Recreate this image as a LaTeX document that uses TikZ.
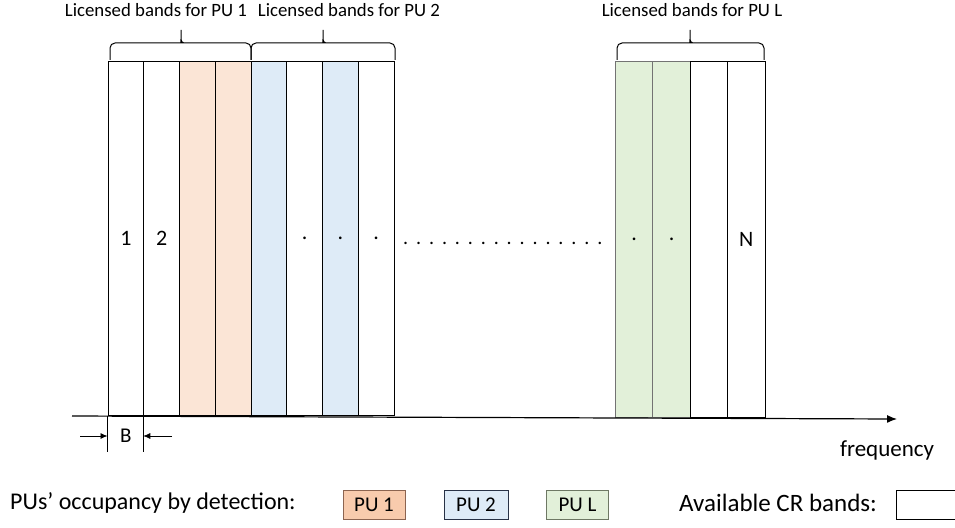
\documentclass[tikz,border=0pt]{standalone}
\usepackage{fontspec}
\setmainfont{Carlito}
\usetikzlibrary{arrows.meta,decorations.pathreplacing,positioning}
\definecolor{puone}{RGB}{251,229,214}
\definecolor{putwo}{RGB}{222,235,247}
\definecolor{pul}{RGB}{226,240,217}
\definecolor{puonekey}{RGB}{248,203,173}
\definecolor{puonedraw}{RGB}{140,100,80}
\definecolor{putwodraw}{RGB}{40,50,70}
\definecolor{puldraw}{RGB}{110,120,100}
\newcommand{\gapdot}{.\hspace{7.9pt}}

\begin{document}
\begin{tikzpicture}[x=1pt,y=-1pt,
  band/.style={draw,line width=1pt,anchor=south,inner sep=0pt,minimum width=35.75pt,minimum height=354pt,font=\fontsize{22}{22}\selectfont},
  wideband/.style={band,minimum width=37.4pt,minimum height=356pt},
  bracket/.style={line width=1pt},
  lab/.style={font=\fontsize{18.8}{18.8}\selectfont,inner sep=0pt},
  key/.style={draw,line width=1pt,minimum width=62pt,minimum height=29pt,inner sep=0pt,font=\fontsize{21}{21}\selectfont},
  big/.style={font=\fontsize{24}{24}\selectfont,inner sep=0pt}]
\useasboundingbox (0,0) rectangle (955,527);
% licensed bands of PU 1 and PU 2
\foreach \i/\c/\t in {1/white/1,2/white/2,3/puone/,4/puone/,5/putwo/,6/white/.,7/putwo/.,8/white/.}
  \node[band,fill=\c] (b\i) at ({108+35.75*(\i-0.5)},416) {\t};
% bands of PU L up to N
\node[wideband,fill=pul,draw=black!55] (g1) at (634.2,418) {.};
\node[wideband,fill=pul,draw=black!55] (g2) at (671.6,418) {.};
\node[wideband] (g3) at (709,418) {};
\node[wideband] (g4) at (746.3,418) {N};
\node[inner sep=0pt,anchor=west,font=\fontsize{20}{20}\selectfont] (gap) at (403,243) {\gapdot\gapdot\gapdot\gapdot\gapdot\gapdot\gapdot\gapdot\gapdot\gapdot\gapdot\gapdot\gapdot\gapdot\gapdot.};

% braces and their labels
\draw[bracket] (110,60) [rounded corners=5pt] |- (178,43) [sharp corners] to[out=0,in=-90] (181,39) -- (181,30) -- (181,39) to[out=-90,in=180] (184,43) [rounded corners=5pt] -| (251,60);
\draw[bracket] (251,60) [rounded corners=5pt] |- (320,43) [sharp corners] to[out=0,in=-90] (323,39) -- (323,30) -- (323,39) to[out=-90,in=180] (326,43) [rounded corners=5pt] -| (395,60);
\draw[bracket] (617,60) [rounded corners=5pt] |- (687,43) [sharp corners] to[out=0,in=-90] (690,39) -- (690,30) -- (690,39) to[out=-90,in=180] (693,43) [rounded corners=5pt] -| (764,60);
\node[lab] (l1) at (156,10) {Licensed bands for PU 1};
\node[lab] (l2) at (349,10) {Licensed bands for PU 2};
\node[lab] (l3) at (692,10) {Licensed bands for PU L};

% frequency axis
\coordinate (ax0) at (72,416);
\coordinate (ax1) at (897,419);
\draw[line width=1.2pt,-{Latex[length=10pt,width=8pt]}] (ax0) -- (ax1);
\node[inner sep=0pt,font=\fontsize{23}{23}\selectfont] (freq) at (887,450) {frequency};

% bandwidth B
\draw[line width=0.8pt] (b1.south west) -- ++(0,36);
\draw[line width=0.8pt] (b2.south west) -- ++(0,36);
\node[inner sep=0pt,font=\fontsize{21}{21}\selectfont] (bw) at (125.9,436) {B};
\coordinate (bin) at (80,436);
\coordinate (bout) at (172,436);
\draw[line width=0.8pt,-{Latex[length=7pt,width=6pt]}] (bin) -- (bw.west -| b1.south west);
\draw[line width=0.8pt,-{Latex[length=7pt,width=6pt]}] (bout) -- (bw.east -| b2.south west);

% legend
\node[big,anchor=west] (occ) at (10,503) {PUs’ occupancy by detection:};
\node[key,fill=puonekey,draw=puonedraw] (k1) at (374,504.5) {PU 1};
\node[key,fill=putwo,draw=putwodraw,minimum width=64pt] (k2) at (476,504.5) {PU 2};
\node[key,fill=pul,draw=puldraw] (k3) at (577.5,504.5) {PU L};
\node[big,anchor=west,font=\fontsize{25}{25}\selectfont] (avail) at (679,503) {Available CR bands:};
\node[key,anchor=west] (kcr) at (896,504.5) {};
\end{tikzpicture}
\end{document}
